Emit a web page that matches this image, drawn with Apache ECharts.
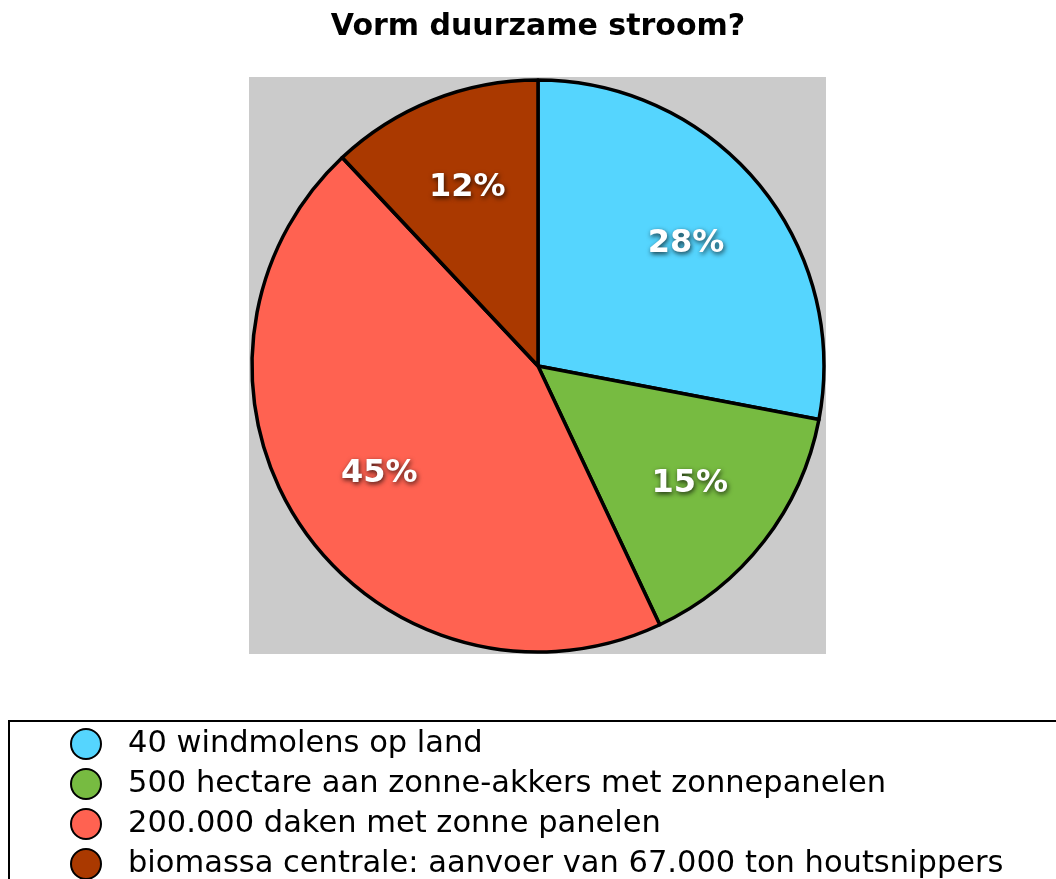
<!DOCTYPE html>
<html>
<head>
<meta charset="utf-8">
<script src="https://cdn.jsdelivr.net/npm/echarts@6/dist/echarts.min.js"></script>
<style>
html, body { margin: 0; padding: 0; background: #fff; }
#chart { width: 1056px; height: 879px; }
</style>
</head>
<body>
<div id="chart"></div>
<script>
// categories in legend order
const categories = [
  '40 windmolens op land',
  '500 hectare aan zonne-akkers met zonnepanelen',
  '200.000 daken met zonne panelen',
  'biomassa centrale: aanvoer van 67.000 ton houtsnippers'
]
const shares = [28, 15, 45, 12] // percent
const colors = ['#55D5FE', '#77BB41', '#FF6251', '#AA3900']

const font = '"DejaVu Sans", "Liberation Sans", Arial, sans-serif'
const chart = echarts.init(document.getElementById('chart'))

const pieData = categories.map((name, i) => ({
  name: name,
  value: shares[i],
  itemStyle: { color: colors[i] }
}))

chart.setOption({
  animation: false,
  title: {
    text: 'Vorm duurzame stroom?',
    left: 533,
    textAlign: 'center',
    top: 7,
    textStyle: { fontFamily: font, fontSize: 30, fontWeight: 'bold', color: '#000' }
  },
  // grey plot backdrop
  graphic: [{
    type: 'rect',
    z: -10,
    shape: { x: 249, y: 77, width: 577, height: 577 },
    style: { fill: '#CBCBCB' }
  }],
  legend: {
    orient: 'vertical',
    left: 9,
    top: 721,
    height: 300,
    padding: [7, 80, 40, 61],
    itemGap: 8,
    itemWidth: 30,
    itemHeight: 30,
    icon: 'circle',
    selectedMode: false,
    borderColor: '#000',
    borderWidth: 2,
    itemStyle: { borderColor: '#000', borderWidth: 2 },
    textStyle: { fontFamily: font, fontSize: 30.5, lineHeight: 30, color: '#000', padding: [0, 0, 0, 22] },
    data: categories
  },
  series: [
    {
      type: 'pie',
      center: [538, 366],
      radius: 286,
      startAngle: 90,
      clockwise: true,
      silent: true,
      label: { show: false },
      labelLine: { show: false },
      itemStyle: { borderColor: '#000', borderWidth: 3.5 },
      data: pieData
    },
    {
      // label ring, sits over the pie so labels land at ~2/3 radius
      type: 'pie',
      center: [538, 366],
      radius: [92, 286],
      startAngle: 90,
      clockwise: true,
      silent: true,
      itemStyle: { color: 'transparent', borderWidth: 0 },
      label: {
        show: true,
        position: 'inside',
        formatter: '{c}%',
        fontFamily: font,
        fontSize: 32,
        fontWeight: 'bold',
        color: '#fff',
        textShadowColor: 'rgba(0,0,0,0.75)',
        textShadowBlur: 5,
        textShadowOffsetX: 1,
        textShadowOffsetY: 2
      },
      labelLine: { show: false },
      data: categories.map((name, i) => ({ name: name, value: shares[i] }))
    }
  ]
})
</script>
</body>
</html>
